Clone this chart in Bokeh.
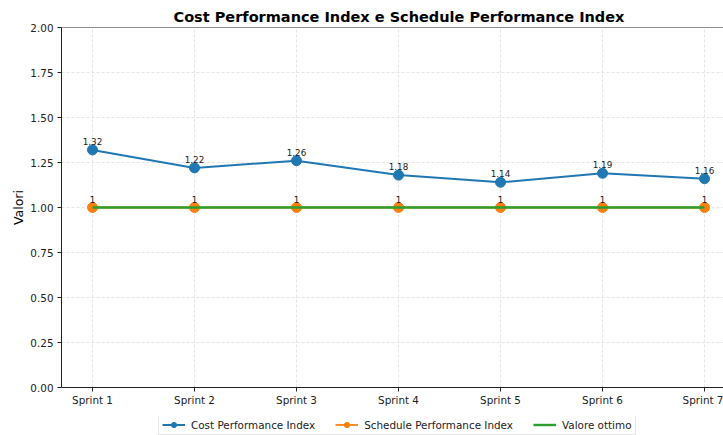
from bokeh.plotting import figure
from bokeh.layouts import column
from bokeh.models import (Range1d, FixedTicker, PrintfTickFormatter, Legend, LegendItem,
                          LabelSet, ColumnDataSource, Span)
from bokeh.core.properties import value
from bokeh.embed import file_html
from bokeh.resources import INLINE

sprints = ["Sprint 1", "Sprint 2", "Sprint 3", "Sprint 4", "Sprint 5", "Sprint 6", "Sprint 7"]
cpi = [1.32, 1.22, 1.26, 1.18, 1.14, 1.19, 1.16]
spi = [1, 1, 1, 1, 1, 1, 1]
ottimo = [1.0] * len(sprints)
y_ticks = [0.0, 0.25, 0.5, 0.75, 1.0, 1.25, 1.5, 1.75, 2.0]
series_names = ["Cost Performance Index", "Schedule Performance Index", "Valore ottimo"]

xs = list(range(len(sprints)))
FONT = "DejaVu Sans"
BLUE, ORANGE, GREEN = "#1f77b4", "#ff7f0e", "#2ca02c"

p = figure(frame_width=662, frame_height=360, output_backend="svg", toolbar_location=None,
           x_range=Range1d(-0.304, 6.186), y_range=Range1d(0, 2),
           min_border_left=61, min_border_right=0, min_border_top=27, min_border_bottom=29)

p.title.text = "Cost Performance Index e Schedule Performance Index"
p.title.text_font = FONT
p.title.text_font_size = "14.5px"
p.title.text_font_style = "bold"
p.title.text_color = "#000000"
p.title.align = "left"
p.title.offset = 112
p.title.standoff = 5

p.outline_line_color = None
p.add_layout(Span(location=2.0, dimension="width", line_color="#222222", line_width=1))

p.xaxis.ticker = FixedTicker(ticks=xs)
p.xaxis.major_label_overrides = {i: s for i, s in enumerate(sprints)}
p.yaxis.ticker = FixedTicker(ticks=y_ticks)
p.yaxis.formatter = PrintfTickFormatter(format="%.2f")
p.yaxis.axis_label = "Valori"
p.yaxis.axis_label_text_font = FONT
p.yaxis.axis_label_text_font_size = "12.5px"
p.yaxis.axis_label_text_font_style = "normal"
p.yaxis.axis_label_text_color = "#000000"
p.yaxis.axis_label_standoff = 1

for ax in (p.xaxis, p.yaxis):
    ax.major_label_text_font = FONT
    ax.major_label_text_font_size = "10.4px"
    ax.major_label_text_color = "#222222"
    ax.axis_line_color = "#222222"
    ax.major_tick_line_color = "#222222"
    ax.major_tick_out = 4
    ax.major_tick_in = 0
    ax.minor_tick_line_color = None
    ax.major_label_standoff = 4
p.xaxis.major_label_standoff = 2

p.xgrid.ticker = FixedTicker(ticks=xs)
p.ygrid.ticker = FixedTicker(ticks=y_ticks)
for g in (p.xgrid, p.ygrid):
    g.grid_line_color = "#dedede"
    g.grid_line_dash = "3 2"
    g.grid_line_width = 0.8

src = ColumnDataSource(dict(x=xs, cpi=cpi, spi=spi, ott=ottimo,
                            cpi_lab=[f"{v:g}" for v in cpi],
                            spi_lab=[f"{v:g}" for v in spi]))

def draw(fig):
    l1 = fig.line("x", "cpi", source=src, line_color=BLUE, line_width=2)
    m1 = fig.scatter("x", "cpi", source=src, size=10, fill_color=BLUE, line_color=BLUE)
    l2 = fig.line("x", "spi", source=src, line_color=ORANGE, line_width=1.8)
    m2 = fig.scatter("x", "spi", source=src, size=10, fill_color=ORANGE, line_color=ORANGE)
    l3 = fig.line("x", "ott", source=src, line_color=GREEN, line_width=2.4)
    return [[l1, m1], [l2, m2], [l3]]

draw(p)

for col, lab in (("cpi", "cpi_lab"), ("spi", "spi_lab")):
    p.add_layout(LabelSet(x="x", y=col, text=lab, source=src, y_offset=5,
                          text_align="center", text_baseline="bottom",
                          text_font=value(FONT), text_font_size=value("8.8px"),
                          text_color="#1a1a1a"))

# legend strip below the chart (its series lie outside its own view)
pl = figure(width=723, height=19, output_backend="svg", toolbar_location=None,
            x_range=Range1d(-0.304, 6.186), y_range=Range1d(10, 11),
            x_axis_location=None, y_axis_location=None,
            min_border=0, min_border_left=0, min_border_right=0,
            min_border_top=0, min_border_bottom=0, outline_line_color=None)
pl.grid.visible = False
groups = draw(pl)

legend = Legend(items=[LegendItem(label=n, renderers=r) for n, r in zip(series_names, groups)],
                orientation="horizontal", location=(97, 0),
                label_text_font=FONT, label_text_font_size="10.4px", label_text_color="#222222",
                glyph_width=23, glyph_height=13, label_standoff=6, spacing=20,
                padding=3, margin=0, border_line_color="#cccccc",
                background_fill_color="white", background_fill_alpha=0.8,
                label_height=13)
pl.add_layout(legend)

layout = column(p, pl, spacing=0)
open("out.html", "w").write(file_html(layout, INLINE))
